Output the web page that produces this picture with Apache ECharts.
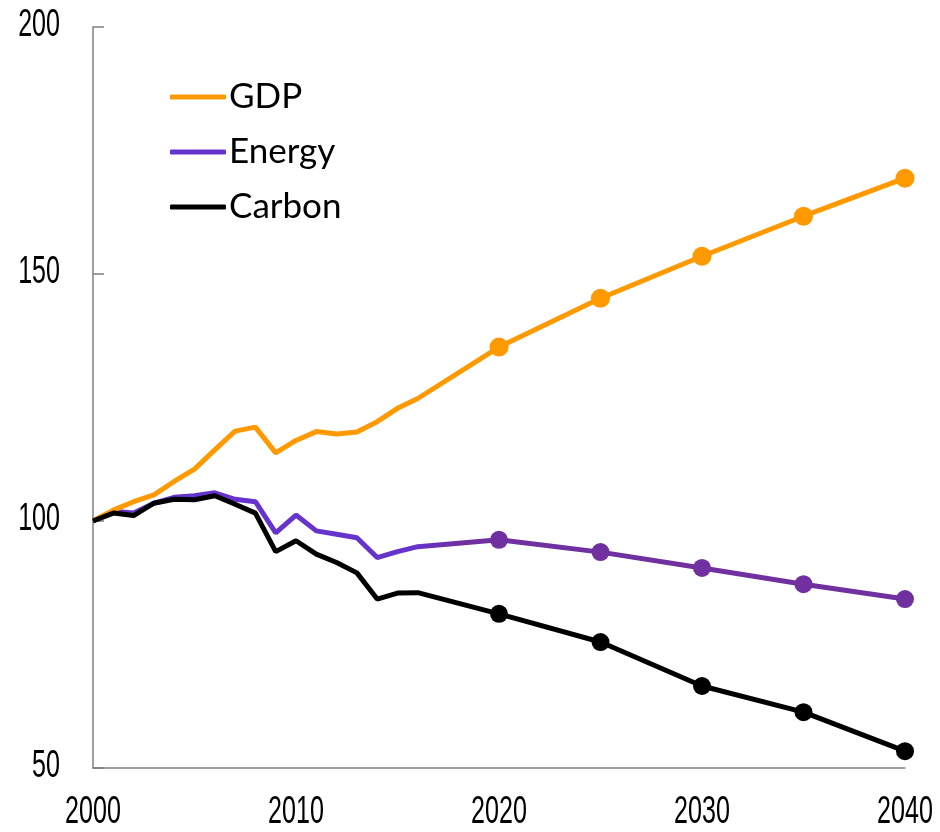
<!DOCTYPE html>
<html>
<head>
<meta charset="utf-8">
<script src="https://cdn.jsdelivr.net/npm/echarts@6/dist/echarts.min.js"></script>
<style>
  html, body { margin: 0; padding: 0; background: #fff; }
  #chart { width: 940px; height: 832px; }
</style>
</head>
<body>
<div id="chart"></div>
<script>
// Index, 2000 = 100
const histYears = [2000, 2001, 2002, 2003, 2004, 2005, 2006, 2007, 2008, 2009, 2010, 2011, 2012, 2013, 2014, 2015, 2016];
const projYears = [2020, 2025, 2030, 2035, 2040];

const gdpHist    = [100, 102.2, 103.9, 105.3, 108.0, 110.5, 114.4, 118.2, 119.0, 113.8, 116.3, 118.1, 117.6, 118.0, 120.1, 122.8, 124.8];
const gdpProj    = [135.2, 145.1, 153.6, 161.7, 169.4];
const energyHist = [100, 102.0, 101.6, 103.6, 104.8, 105.1, 105.7, 104.4, 103.9, 97.6, 101.2, 98.0, 97.3, 96.6, 92.6, 93.8, 94.8];
const energyProj = [96.2, 93.7, 90.5, 87.2, 84.2];
const carbonHist = [100, 101.6, 101.1, 103.6, 104.4, 104.3, 105.1, 103.4, 101.6, 93.8, 96.0, 93.3, 91.6, 89.5, 84.2, 85.4, 85.5];
const carbonProj = [81.2, 75.5, 66.6, 61.3, 53.4];

const xTicks = [2000, 2010, 2020, 2030, 2040];
const yTicks = [50, 100, 150, 200];

// history drawn as plain line, projections marked with dots
function buildData(hist, proj) {
  const out = [];
  histYears.forEach((y, i) => out.push({ value: [y, hist[i]], symbol: 'none' }));
  projYears.forEach((y, i) => out.push({ value: [y, proj[i]], symbol: 'circle' }));
  return out;
}

const chart = echarts.init(document.getElementById('chart'), null, { renderer: 'canvas' });

chart.setOption({
  animation: false,
  backgroundColor: '#ffffff',
  grid: { left: 93, right: 35, top: 27, bottom: 64, containLabel: false, outerBoundsMode: 'none' },
  legend: {
    orient: 'vertical',
    left: 165,
    top: 72,
    icon: 'roundRect',
    itemWidth: 56,
    itemHeight: 5,
    itemGap: 15,
    textStyle: { fontFamily: 'Lato, "Open Sans", sans-serif', fontSize: 35, color: '#000', lineHeight: 40, padding: [0, 0, 0, -2] },
    data: [
      { name: 'GDP', itemStyle: { color: '#ff9900' } },
      { name: 'Energy', itemStyle: { color: '#6633cc' } },
      { name: 'Carbon', itemStyle: { color: '#000000' } }
    ]
  },
  xAxis: {
    type: 'value',
    min: xTicks[0],
    max: xTicks[xTicks.length - 1],
    interval: 10,
    axisLine: { show: true, lineStyle: { color: '#808080', width: 1.5 } },
    axisTick: { show: false },
    splitLine: { show: false },
    axisLabel: { show: false }
  },
  yAxis: {
    type: 'value',
    min: yTicks[0],
    max: yTicks[yTicks.length - 1],
    interval: 50,
    axisLine: { show: true, lineStyle: { color: '#808080', width: 1.5 } },
    axisTick: { show: true, inside: true, length: 11, lineStyle: { color: '#808080', width: 1.5 } },
    splitLine: { show: false },
    axisLabel: { show: false }
  },
  series: [
    {
      name: 'GDP',
      type: 'line',
      data: buildData(gdpHist, gdpProj),
      symbolSize: 19,
      lineStyle: { color: '#ff9900', width: 5 },
      itemStyle: { color: '#ff9900' },
      z: 3
    },
    {
      name: 'Energy',
      type: 'line',
      data: buildData(energyHist, energyProj),
      symbolSize: 18,
      lineStyle: {
        width: 5,
        color: new echarts.graphic.LinearGradient(0, 0, 1, 0, [
          { offset: 0, color: '#6633cc' },
          { offset: 0.4, color: '#6633cc' },
          { offset: 0.45, color: '#7030a0' },
          { offset: 1, color: '#7030a0' }
        ])
      },
      itemStyle: { color: '#7030a0' },
      z: 2
    },
    {
      name: 'Carbon',
      type: 'line',
      data: buildData(carbonHist, carbonProj),
      symbolSize: 18,
      lineStyle: { color: '#000000', width: 5 },
      itemStyle: { color: '#000000' },
      z: 4
    }
  ]
});

// Tick labels in a narrow face: placed through the axis scales, squeezed horizontally
const tickFont = '38px "Liberation Sans", Arial, sans-serif';
const squeeze = 0.66;
const labels = [];
yTicks.forEach(v => {
  const p = chart.convertToPixel({ gridIndex: 0 }, [xTicks[0], v]);
  labels.push({
    type: 'text',
    x: p[0] - 33,
    y: p[1] - 1,
    scaleX: squeeze,
    silent: true,
    style: { text: String(v), font: tickFont, fill: '#000', align: 'right', verticalAlign: 'middle' }
  });
});
xTicks.forEach(v => {
  const p = chart.convertToPixel({ gridIndex: 0 }, [v, yTicks[0]]);
  labels.push({
    type: 'text',
    x: p[0],
    y: p[1] + 45,
    scaleX: squeeze,
    silent: true,
    style: { text: String(v), font: tickFont, fill: '#000', align: 'center', verticalAlign: 'middle' }
  });
});
chart.setOption({ graphic: { elements: labels } });
</script>
</body>
</html>
